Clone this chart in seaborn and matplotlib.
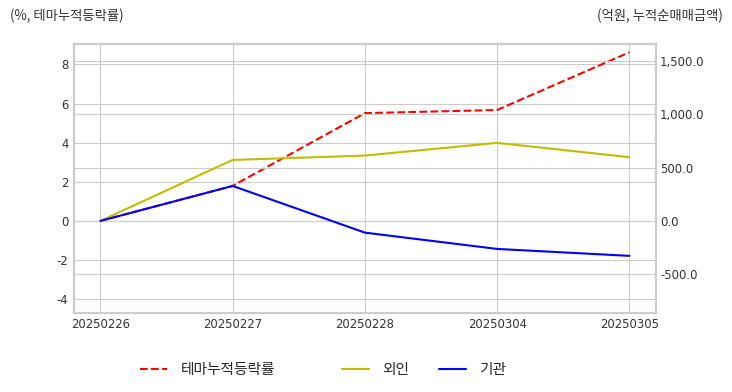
import matplotlib
matplotlib.use("Agg")
import matplotlib.pyplot as plt
import pandas as pd
import seaborn as sns
from matplotlib.ticker import FuncFormatter

dates = ["20250226", "20250227", "20250228", "20250304", "20250305"]
theme_rate = [0.0, 1.79, 5.51, 5.67, 8.62]      # %, left axis
foreign = [0.0, 572.0, 613.0, 732.0, 598.0]     # 억원, right axis
institution = [0.0, 328.0, -110.0, -263.0, -328.0]

df = pd.DataFrame({"date": dates, "theme": theme_rate,
                   "foreign": foreign, "inst": institution})

sns.set_style("whitegrid")
plt.rcParams["font.family"] = ["Noto Sans CJK KR", "DejaVu Sans"]
plt.rcParams["axes.unicode_minus"] = False

fig = plt.figure(figsize=(7.32, 3.92), dpi=100)
ax1 = fig.add_axes([0.101, 0.201, 0.795, 0.686])
ax2 = ax1.twinx()

sns.lineplot(data=df, x="date", y="theme", ax=ax1, color="r", linestyle="--",
             linewidth=1.5, sort=False, label="테마누적등락률", legend=False)
sns.lineplot(data=df, x="date", y="foreign", ax=ax2, color="y",
             linewidth=1.5, sort=False, label="외인", legend=False)
sns.lineplot(data=df, x="date", y="inst", ax=ax2, color="b",
             linewidth=1.5, sort=False, label="기관", legend=False)

ax1.set_xlim(-0.2, 4.2)
ax1.set_ylim(-4.72, 9.03)
ax1.set_yticks([-4, -2, 0, 2, 4, 6, 8])
ax2.set_ylim(-866, 1657)
ax2.set_yticks([-500, 0, 500, 1000, 1500])
ax2.yaxis.set_major_formatter(FuncFormatter(lambda v, p: f"{v:,.1f}"))

for ax in (ax1, ax2):
    ax.set_xlabel("")
    ax.set_ylabel("")
    ax.tick_params(labelsize=8.4, colors="#333333", length=0)
    for lab in ax.get_xticklabels() + ax.get_yticklabels():
        lab.set_family("DejaVu Sans")
    for s in ax.spines.values():
        s.set_color("#cccccc")
        s.set_linewidth(1.5)
ax1.tick_params(axis="y", pad=4)
ax2.tick_params(axis="y", pad=3)
ax1.tick_params(axis="x", pad=3.5)

fig.text(0.013, 0.96, "(%, 테마누적등락률)", fontsize=9.6, color="#333333",
         ha="left", va="center")
fig.text(0.987, 0.96, "(억원, 누적순매매금액)", fontsize=9.6, color="#333333",
         ha="right", va="center")

h1, l1 = ax1.get_legend_handles_labels()
h2, l2 = ax2.get_legend_handles_labels()
fig.legend(h1, l1, loc="center left", bbox_to_anchor=(0.183, 0.056),
           frameon=False, fontsize=10.6, handlelength=1.85, handletextpad=0.9,
           borderaxespad=0)
fig.legend(h2, l2, loc="center left", bbox_to_anchor=(0.459, 0.056),
           frameon=False, fontsize=10.6, handlelength=1.85, handletextpad=0.9,
           ncol=2, columnspacing=2.0, borderaxespad=0)

fig.savefig("out.png", dpi=100)
